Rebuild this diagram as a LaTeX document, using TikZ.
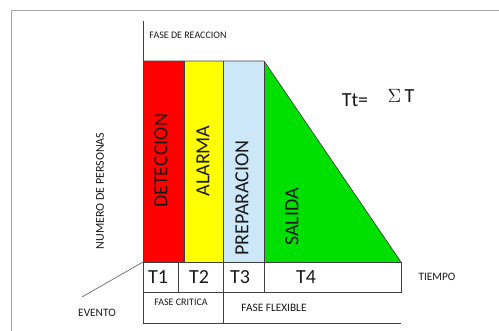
\documentclass[tikz,border=0pt]{standalone}
\usepackage{fontspec}
\setmainfont{Carlito}
\usetikzlibrary{positioning, calc}
\definecolor{detred}{HTML}{FF0000}
\definecolor{alarmyellow}{HTML}{FFFF00}
\definecolor{prepblue}{HTML}{CCE8F8}
\definecolor{salgreen}{HTML}{00E000}

\begin{document}
\begin{tikzpicture}[
  x=0.75pt, y=-0.75pt,
  bar/.style={draw=black!75, line width=0.5pt},
  rule/.style={draw=black!75, line width=0.5pt},
  frame/.style={draw=black!35, line width=0.7pt},
  small/.style={font=\fontsize{7.5}{9}\selectfont, text=black!90},
  mid/.style={font=\fontsize{8.5}{10}\selectfont, text=black!90},
  big/.style={font=\fontsize{15}{17}\selectfont, text=black!90},
  phase/.style={rotate=90, font=\fontsize{15}{17}\selectfont, text=black!90}
]
  \useasboundingbox (0,0) rectangle (499,331);

  % Frame
  \draw[frame] (11,331) -- (11,10) -- (499,10);

  % Corner points
  \coordinate (O) at (143,262);
  \coordinate (top) at (143,21);
  \coordinate (bot) at (143,323);
  \coordinate (c1) at (184,61);
  \coordinate (c2) at (223,61);
  \coordinate (c3) at (264,61);
  \coordinate (end) at (401,262);
  \coordinate (ev) at (82,297);

  % Phase bars
  \fill[detred] (143,61) rectangle (184,262);
  \fill[alarmyellow] (184,61) rectangle (223,262);
  \fill[prepblue] (223,61) rectangle (264,262);
  \fill[salgreen] (c3) -- (end) -- (264,262) -- cycle;
  \draw[bar] (143,61) -- (c3) -- (end);
  \draw[bar] (c1) -- (184,262);
  \draw[bar] (c2) -- (223,262);
  \draw[bar] (c3) -- (264,262);

  % Axis and table
  \draw[rule] (top) -- (bot);
  \draw[rule] (O) -- (end) -- (401,292) -- (143,292);
  \draw[rule] (178,262) -- (178,292);
  \draw[rule] (223,262) -- (223,323);
  \draw[rule] (264,262) -- (264,292);
  \draw[rule] (bot) -- (401,323);
  \draw[draw=black!60, line width=0.5pt] (O) -- (ev);

  % Labels
  \node[phase] (det) at (161,161) {DETECCION};
  \node[phase] (alarma) at (203,161) {ALARMA};
  \node[phase] (prep) at (242,198) {PREPARACION};
  \node[phase] (salida) at (292,217) {SALIDA};

  \node[big] (t1) at (158,277) {T1};
  \node[big] (t2) at (199,277) {T2};
  \node[big] (t3) at (240,277) {T3};
  \node[big] (t4) at (306,277) {T4};

  \node[small] (critica) at (181,302) {FASE CRITICA};
  \node[mid] (flexible) at (274,308) {FASE FLEXIBLE};
  \node[mid] (evento) at (97,313) {EVENTO};
  \node[mid] (tiempo) at (437,277) {TIEMPO};
  \node[small] (reaccion) at (188,35) {FASE DE REACCION};
  \node[mid, rotate=90, font=\fontsize{9}{10}\selectfont] (personas) at (100,191) {NUMERO DE PERSONAS};

  \node[big] (tt) at (355,100) {Tt=};
  \node[big] (sum) at (401,96) {$\Sigma$\,T};
\end{tikzpicture}
\end{document}
